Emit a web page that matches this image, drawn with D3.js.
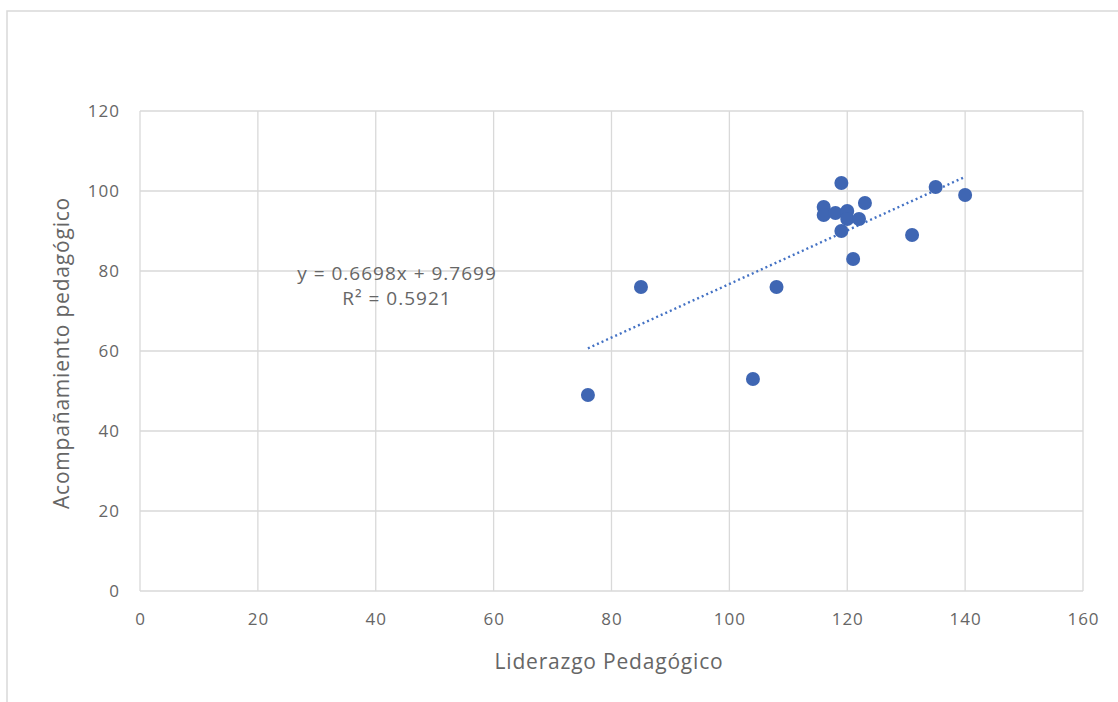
<!DOCTYPE html>
<html><head><meta charset="utf-8">
<script src="https://cdn.jsdelivr.net/npm/d3@7"></script>
<style>body{margin:0;background:#fff;font-family:"Open Sans","Noto Sans",sans-serif;}</style>
</head><body><svg id="c" width="1118" height="702"></svg>
<script>
const liderazgo = [76, 85, 108, 104, 119, 116, 116, 118, 120, 120, 122, 123, 119, 121, 131, 135, 140];
const acompanamiento = [49, 76, 76, 53, 102, 96, 94, 94.5, 95, 93, 93, 97, 90, 83, 89, 101, 99];
const xTicks = [0, 20, 40, 60, 80, 100, 120, 140, 160];
const yTicks = [0, 20, 40, 60, 80, 100, 120];
const trend = {slope: 0.6698, intercept: 9.7699, xFrom: 76, xTo: 140};
const eqLines = ["y = 0.6698x + 9.7699", "R² = 0.5921"];

const svg = d3.select("#c");
const x = d3.scaleLinear().domain([0,160]).range([140,1083]);
const y = d3.scaleLinear().domain([0,120]).range([591,111]);

svg.append("rect").attr("x",7).attr("y",11).attr("width",1140).attr("height",720)
  .attr("fill","#fff").attr("stroke","#d9d9d9").attr("stroke-width",1.5);

const grid = svg.append("g");
grid.selectAll(".gx").data(xTicks).join("line")
  .attr("x1",d=>x(d)).attr("x2",d=>x(d)).attr("y1",y(0)).attr("y2",y(120))
  .attr("stroke","#d9d9d9").attr("stroke-width",1.3);
grid.selectAll(".gy").data(yTicks).join("line")
  .attr("x1",x(0)).attr("x2",x(160)).attr("y1",d=>y(d)).attr("y2",d=>y(d))
  .attr("stroke","#d9d9d9").attr("stroke-width",1.3);

const xAxis = d3.axisBottom(x).tickValues(xTicks).tickSize(0).tickPadding(22);
svg.append("g").attr("transform",`translate(0,${y(0)})`).call(xAxis)
  .call(g=>g.select(".domain").remove())
  .selectAll("text").attr("font-size",17).attr("letter-spacing",1).attr("fill","#666").attr("font-family","Open Sans");
const yAxis = d3.axisLeft(y).tickValues(yTicks).tickSize(0).tickPadding(20);
svg.append("g").attr("transform",`translate(${x(0)},0)`).call(yAxis)
  .call(g=>g.select(".domain").remove())
  .selectAll("text").attr("font-size",17).attr("letter-spacing",1).attr("fill","#666").attr("font-family","Open Sans");

svg.append("line")
  .attr("x1",x(trend.xFrom)).attr("y1",y(trend.slope*trend.xFrom+trend.intercept))
  .attr("x2",x(trend.xTo)).attr("y2",y(trend.slope*trend.xTo+trend.intercept))
  .attr("stroke","#4472c4").attr("stroke-width",2.4).attr("stroke-dasharray","2,3");

svg.append("g").selectAll("circle").data(liderazgo.map((v,i)=>[v,acompanamiento[i]])).join("circle")
  .attr("cx",d=>x(d[0])).attr("cy",d=>y(d[1])).attr("r",7)
  .attr("fill","#3f66b3");

svg.append("g").selectAll("text").data(eqLines).join("text")
  .attr("x",397).attr("y",(d,i)=>280+i*25).attr("text-anchor","middle")
  .attr("font-size",19).attr("letter-spacing",1).attr("fill","#666").text(d=>d);

svg.append("text").attr("x",609).attr("y",669).attr("text-anchor","middle")
  .attr("font-size",21).attr("letter-spacing",0.8).attr("fill","#666").text("Liderazgo Pedagógico");
svg.append("text").attr("transform","translate(69,353) rotate(-90)").attr("text-anchor","middle")
  .attr("font-size",21).attr("letter-spacing",0.8).attr("fill","#666").text("Acompañamiento pedagógico");
</script></body></html>
